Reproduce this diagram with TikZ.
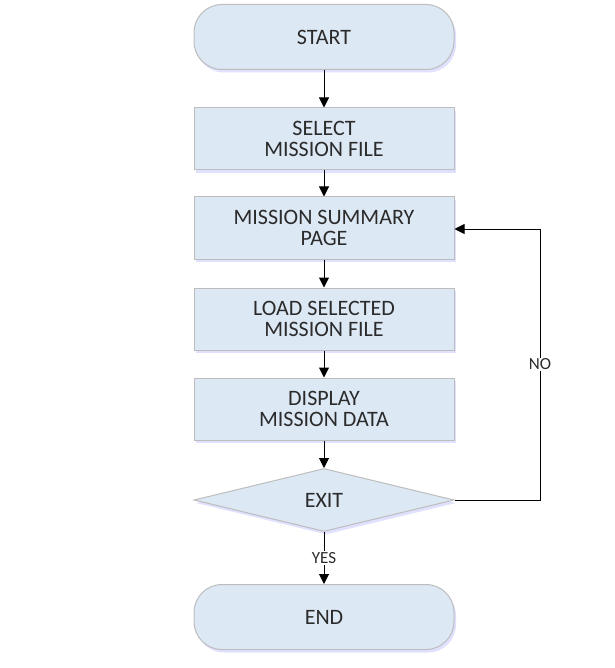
\documentclass[tikz,border=0pt]{standalone}
\usepackage{fontspec}
\setmainfont{Carlito}
\usetikzlibrary{arrows.meta,shapes.geometric,shadows}
\definecolor{boxfill}{HTML}{DDE8F5}
\definecolor{boxline}{HTML}{BDBDBD}
\definecolor{boxtext}{HTML}{2B2B2B}
\tikzset{
  base/.style={draw=boxline,line width=1pt,fill=boxfill,text=boxtext,
    font=\fontsize{22}{21}\selectfont,align=center,
    drop shadow={fill=blue!12,opacity=1,shadow xshift=2pt,shadow yshift=-3pt}},
  terminal/.style={base,rectangle,rounded corners=28pt,minimum width=260pt,minimum height=65pt},
  process/.style={base,rectangle,minimum width=260pt,minimum height=62pt},
  decision/.style={base,diamond,aspect=4.1,minimum width=260pt,minimum height=63pt,inner sep=0pt},
  link/.style={draw=black,line width=1pt,-{Triangle[width=10pt,length=10pt]}},
  lbl/.style={fill=white,text=boxtext,font=\fontsize{17}{19}\selectfont,inner sep=1pt}
}
\begin{document}
\begin{tikzpicture}[x=1pt,y=-1pt]
  \useasboundingbox (0,0) rectangle (614,668);
  \node[terminal] (start) at (324,37) {START};
  \node[process] (select) at (324,139) {SELECT\\MISSION FILE};
  \node[process] (summary) at (324,228) {MISSION SUMMARY\\PAGE};
  \node[process] (load) at (324,319) {LOAD SELECTED\\MISSION FILE};
  \node[process] (display) at (324,409) {DISPLAY\\MISSION DATA};
  \node[decision] (exit) at (324,500) {EXIT};
  \node[terminal] (end) at (324,617) {END};
  \coordinate (loopA) at (540,500);
  \coordinate (loopB) at (540,229);
  \draw[link] (start) -- (select);
  \draw[link] (select) -- (summary);
  \draw[link] (summary) -- (load);
  \draw[link] (load) -- (display);
  \draw[link] (display) -- (exit);
  \draw[link] (exit) -- node[lbl] {YES} (end);
  \draw[link] (exit.east) -- (loopA) -- node[lbl] {NO} (loopB) -- (summary.east |- loopB);
\end{tikzpicture}
\end{document}
